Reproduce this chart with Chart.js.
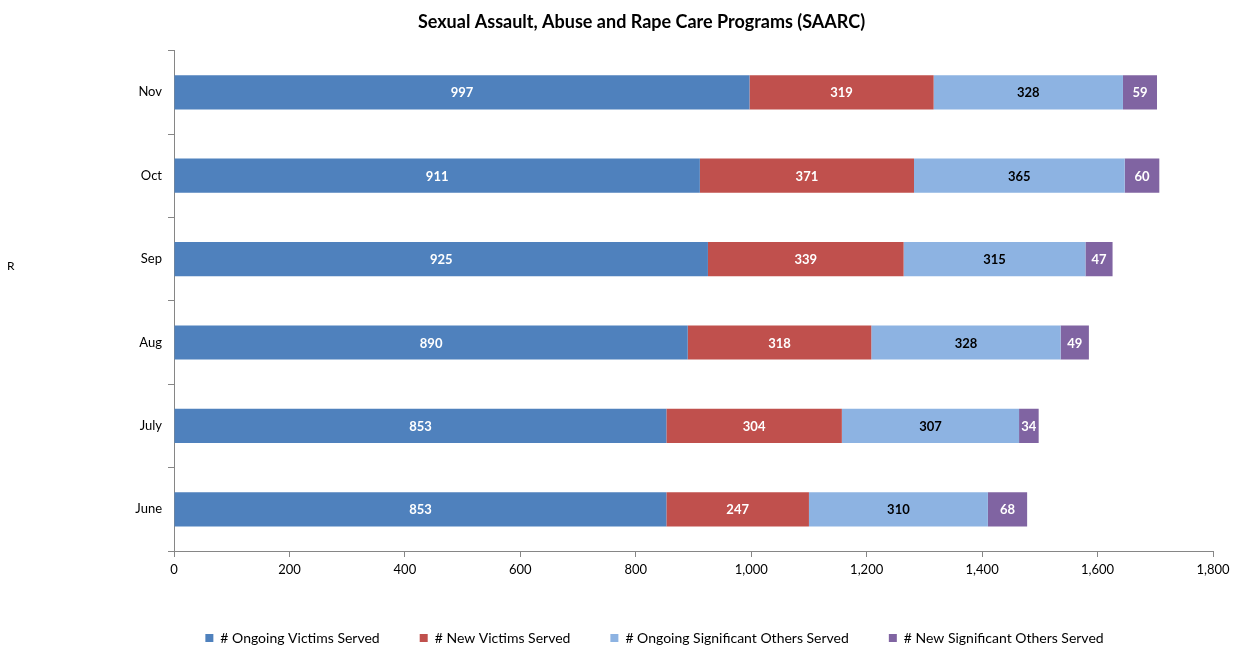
<!DOCTYPE html>
<html>
<head>
<meta charset="utf-8">
<script src="https://cdn.jsdelivr.net/npm/chart.js@4/dist/chart.umd.min.js"></script>
<style>
  html, body { margin: 0; padding: 0; background: #fff; }
  #wrap { width: 1241px; height: 653px; }
</style>
</head>
<body>
<div id="wrap"><canvas id="c" width="1241" height="653"></canvas></div>
<script>
// Monthly counts, top row first
const months = ['Nov', 'Oct', 'Sep', 'Aug', 'July', 'June'];
const ongoingVictims = [997, 911, 925, 890, 853, 853];
const newVictims = [319, 371, 339, 318, 304, 247];
const ongoingOthers = [328, 365, 315, 328, 307, 310];
const newOthers = [59, 60, 47, 49, 34, 68];
const xTicks = [0, 200, 400, 600, 800, 1000, 1200, 1400, 1600, 1800];

const FONT = 'Lato, "Noto Sans", sans-serif';
const AXIS_GREY = '#868686';

// Writes each segment's value in its centre
const valueLabels = {
  id: 'valueLabels',
  afterDatasetsDraw(chart) {
    const ctx = chart.ctx;
    ctx.save();
    ctx.font = 'bold 13px ' + FONT;
    ctx.textAlign = 'center';
    ctx.textBaseline = 'middle';
    chart.data.datasets.forEach((ds, di) => {
      const meta = chart.getDatasetMeta(di);
      meta.data.forEach((bar, i) => {
        const p = bar.getProps(['x', 'y', 'base'], true);
        ctx.fillStyle = ds.labelColor;
        ctx.fillText(String(ds.data[i]), (p.x + p.base) / 2, p.y + 1);
      });
    });
    ctx.restore();
  }
};

// Nudges the title and legend blocks after layout
const blockOffsets = {
  id: 'blockOffsets',
  afterLayout(chart) {
    const t = chart.titleBlock;
    if (t) { t.left += 35; t.right += 35; }
    const l = chart.legend;
    if (l) { l.left += 48; l.right += 48; l.top += 2; l.bottom += 2; }
  }
};

// Stray axis caption at the left edge
const sideCaption = {
  id: 'sideCaption',
  afterDraw(chart) {
    const ctx = chart.ctx;
    ctx.save();
    ctx.font = '12px ' + FONT;
    ctx.fillStyle = '#000';
    ctx.textAlign = 'left';
    ctx.textBaseline = 'middle';
    ctx.fillText('R', 7, 266);
    ctx.restore();
  }
};

function series(label, data, color, labelColor) {
  return { label, data, backgroundColor: color, labelColor, borderWidth: 0,
           barPercentage: 0.82, categoryPercentage: 0.5 };
}

new Chart(document.getElementById('c'), {
  type: 'bar',
  data: {
    labels: months,
    datasets: [
      series('# Ongoing Victims Served', ongoingVictims, '#4F81BD', '#fff'),
      series('# New Victims Served', newVictims, '#C0504D', '#fff'),
      series('# Ongoing Significant Others Served', ongoingOthers, '#8DB3E2', '#000'),
      series('# New Significant Others Served', newOthers, '#8064A2', '#fff')
    ]
  },
  options: {
    indexAxis: 'y',
    responsive: false,
    animation: false,
    layout: { padding: { left: 0, right: 28, top: 0, bottom: 0 } },
    scales: {
      x: {
        stacked: true,
        min: 0,
        max: 1800,
        afterBuildTicks(scale) { scale.ticks = xTicks.map(v => ({ value: v })); },
        ticks: {
          color: '#000',
          font: { family: FONT, size: 13 },
          padding: 5,
          callback: v => v.toLocaleString('en-US')
        },
        grid: { drawOnChartArea: false, tickLength: 6, color: AXIS_GREY },
        border: { color: AXIS_GREY },
        afterFit(scale) { scale.height = 38; }
      },
      y: {
        stacked: true,
        ticks: { color: '#000', font: { family: FONT, size: 13 }, padding: 6 },
        grid: { drawOnChartArea: false, offset: true, tickLength: 6, color: AXIS_GREY },
        border: { color: AXIS_GREY },
        afterFit(scale) { scale.width = 174; }
      }
    },
    plugins: {
      title: {
        display: true,
        text: 'Sexual Assault, Abuse and Rape Care Programs (SAARC)',
        color: '#000',
        font: { family: FONT, size: 18, weight: 'bold' },
        padding: { top: 11, bottom: 18 }
      },
      legend: {
        position: 'bottom',
        labels: {
          boxWidth: 8,
          boxHeight: 8,
          padding: 40,
          color: '#000',
          font: { family: FONT, size: 14 }
        }
      },
      tooltip: { enabled: false }
    }
  },
  plugins: [valueLabels, blockOffsets, sideCaption]
});
</script>
</body>
</html>
